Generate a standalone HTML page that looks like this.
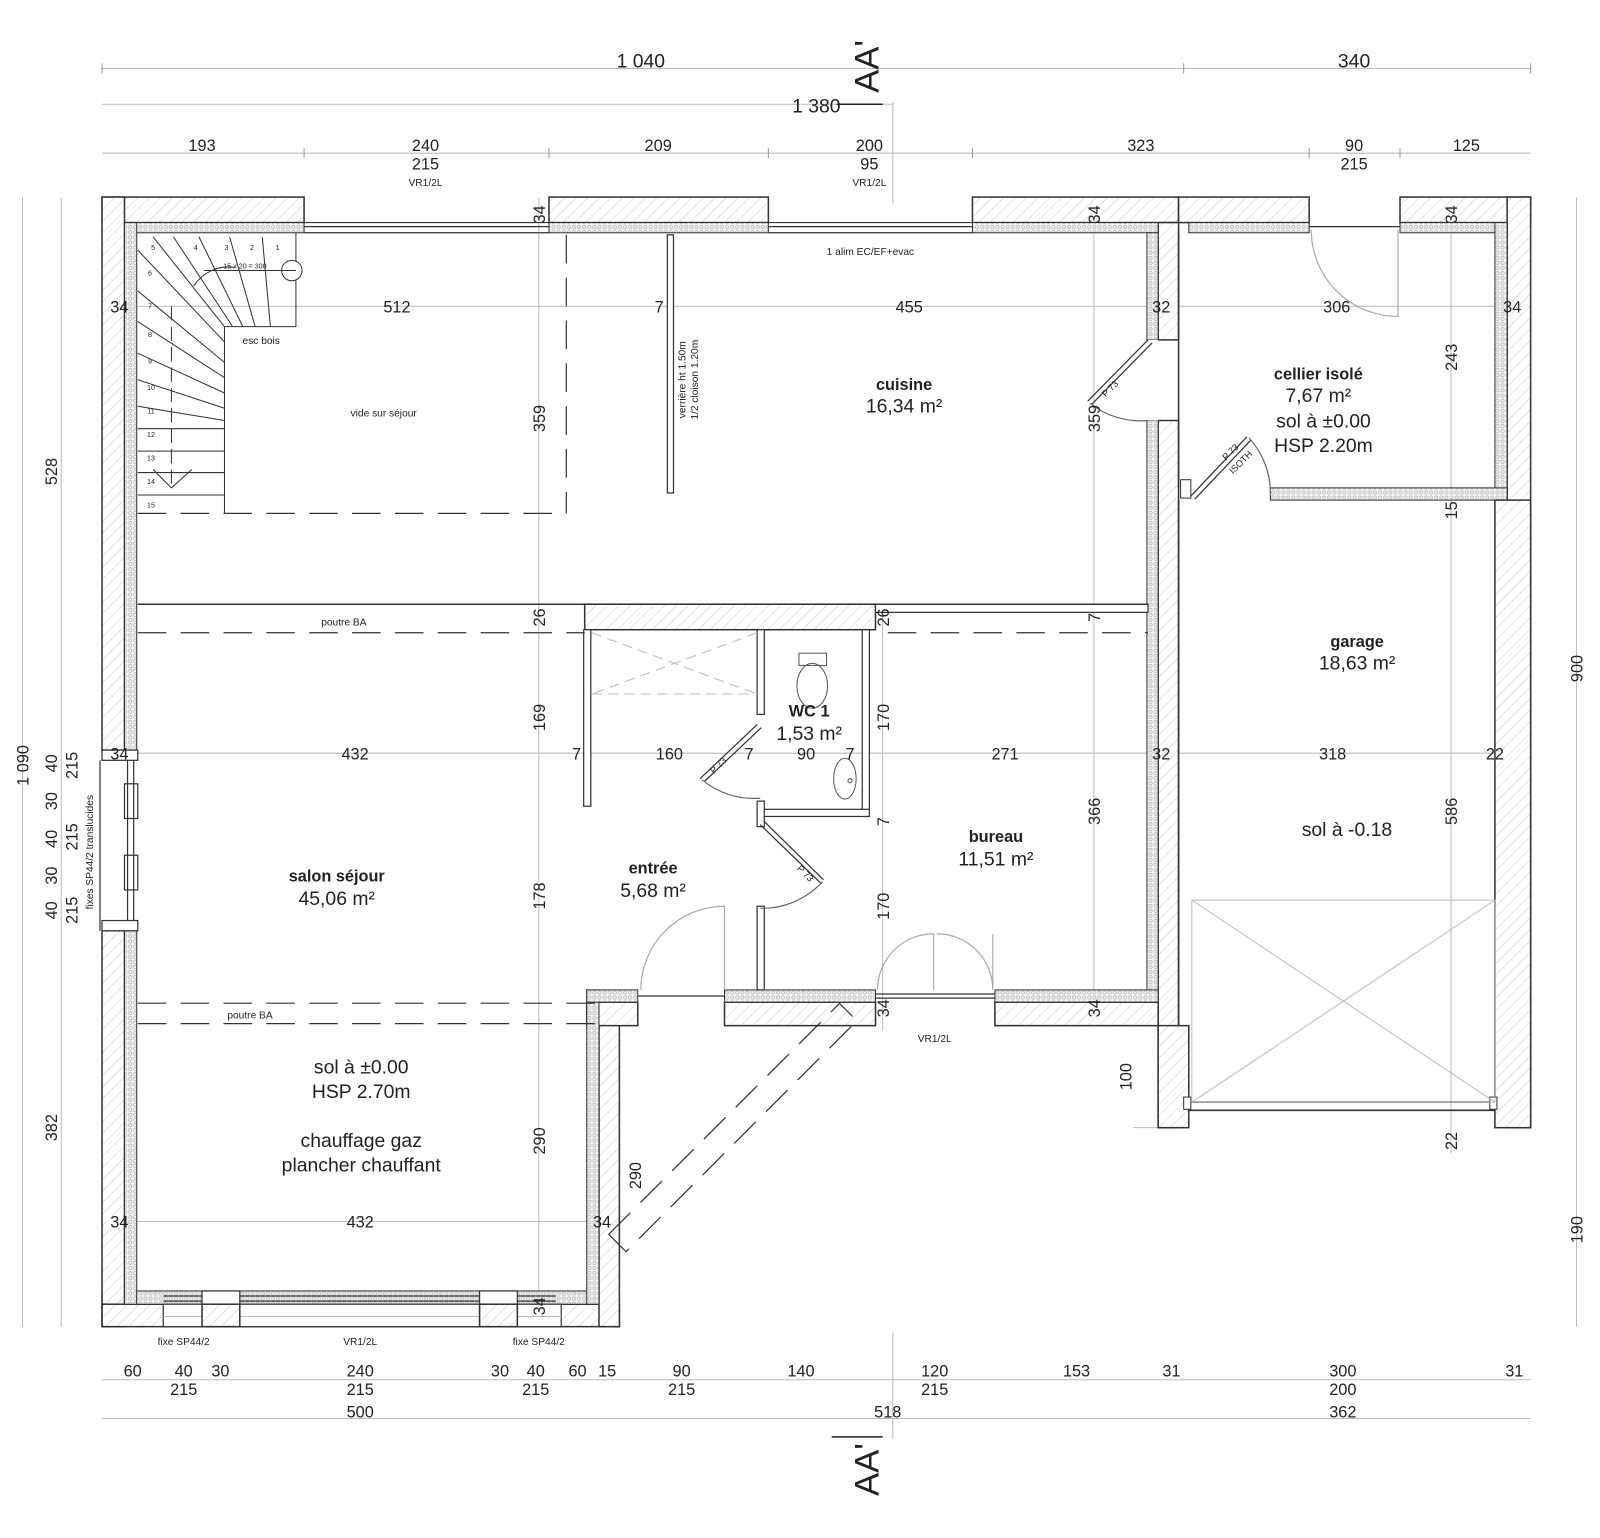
<!DOCTYPE html>
<html><head><meta charset="utf-8"><style>
html,body{margin:0;padding:0;background:#fff}
svg{display:block}
text{font-family:"Liberation Sans",sans-serif;fill:#222}
.d{font-size:16px;text-anchor:middle}
.s{font-size:10px;text-anchor:middle}
.b{font-size:16px;font-weight:bold;text-anchor:middle}
.a{font-size:19px;text-anchor:middle}
.g{stroke:#bbb;stroke-width:1;fill:none}
.k{stroke:#333;stroke-width:1.5;fill:none}
.w{fill:url(#h);stroke:#333;stroke-width:1.5}
.i{fill:url(#ins);stroke:#333;stroke-width:1}
.dash{stroke:#333;stroke-width:1.2;stroke-dasharray:28 14;fill:none}
</style></head><body>
<svg width="1600" height="1538" viewBox="0 0 1568 1507" xmlns="http://www.w3.org/2000/svg">
<defs>
<pattern id="h" width="8" height="8" patternUnits="userSpaceOnUse" patternTransform="rotate(45)">
<rect width="8" height="8" fill="#fff"/><line x1="0" y1="0" x2="0" y2="8" stroke="#c8c8c8" stroke-width="1"/></pattern>
<pattern id="ins" width="5" height="5" patternUnits="userSpaceOnUse">
<rect width="5" height="5" fill="#f2f2f2"/><circle cx="2.5" cy="2.5" r="1.6" fill="none" stroke="#aaa" stroke-width="0.6"/></pattern>
</defs>

<!-- dimension lines -->
<g class="g">
<line x1="100" y1="67" x2="1500" y2="67"/><line x1="100" y1="102" x2="875" y2="102"/>
<line x1="100" y1="150" x2="1500" y2="150"/>
<line x1="22" y1="193" x2="22" y2="1300"/><line x1="60" y1="193" x2="60" y2="1300"/>
<line x1="1545" y1="193" x2="1545" y2="1300"/>
<line x1="100" y1="1352" x2="1500" y2="1352"/><line x1="100" y1="1390" x2="1500" y2="1390"/>
<line x1="875" y1="100" x2="875" y2="200"/><line x1="875" y1="1305" x2="875" y2="1410"/>
<line x1="100" y1="300" x2="1500" y2="300"/><line x1="100" y1="738" x2="1500" y2="738"/>
<line x1="100" y1="1197" x2="607" y2="1197"/>
<line x1="528" y1="193" x2="528" y2="1300"/><line x1="865" y1="592" x2="865" y2="1010"/>
<line x1="1072" y1="193" x2="1072" y2="1005"/><line x1="1422" y1="193" x2="1422" y2="1130"/>
<line x1="1110" y1="1105" x2="1165" y2="1105"/>
</g>
<g stroke="#999" stroke-width="1">
<line x1="100" y1="62" x2="100" y2="72"/><line x1="1160" y1="62" x2="1160" y2="72"/><line x1="1500" y1="62" x2="1500" y2="72"/>
<line x1="298" y1="145" x2="298" y2="155"/><line x1="538" y1="145" x2="538" y2="155"/><line x1="753" y1="145" x2="753" y2="155"/><line x1="953" y1="145" x2="953" y2="155"/><line x1="1283" y1="145" x2="1283" y2="155"/><line x1="1372" y1="145" x2="1372" y2="155"/>
</g>
<line x1="820" y1="102" x2="865" y2="102" stroke="#222" stroke-width="1.5"/>
<line x1="815" y1="1408" x2="865" y2="1408" stroke="#222" stroke-width="1.5"/>

<!-- outer walls -->
<rect class="w" x="100" y="193" width="198" height="25"/>
<rect class="w" x="538" y="193" width="215" height="25"/>
<rect class="w" x="953" y="193" width="202" height="25"/>
<rect class="w" x="1155" y="193" width="128" height="25"/>
<rect class="w" x="1372" y="193" width="128" height="25"/>
<rect class="w" x="100" y="193" width="22" height="542"/>
<rect class="w" x="100" y="912" width="22" height="388"/>
<rect class="w" x="1477" y="193" width="23" height="912"/>
<rect class="w" x="1135" y="218" width="20" height="887"/>
<rect class="w" x="100" y="1278" width="507" height="22"/>
<rect class="w" x="587" y="982" width="20" height="318"/>
<rect class="w" x="575" y="982" width="50" height="23"/>
<rect class="w" x="710" y="982" width="148" height="23"/>
<rect class="w" x="975" y="982" width="160" height="23"/>
<rect class="w" x="573" y="592" width="285" height="25"/>
<!-- insulation -->
<rect class="i" x="122" y="218" width="176" height="10"/>
<rect class="i" x="538" y="218" width="215" height="10"/>
<rect class="i" x="953" y="218" width="182" height="10"/>
<rect class="i" x="1165" y="218" width="118" height="10"/>
<rect class="i" x="1372" y="218" width="105" height="10"/>
<rect class="i" x="122" y="218" width="12" height="517"/>
<rect class="i" x="122" y="912" width="12" height="366"/>
<rect class="i" x="1465" y="218" width="12" height="272"/>
<rect class="i" x="1124" y="228" width="11" height="105"/>
<rect class="i" x="1124" y="412" width="11" height="570"/>
<rect class="i" x="1245" y="478" width="232" height="12"/>
<rect class="i" x="134" y="1265" width="453" height="13"/>
<rect class="i" x="575" y="970" width="12" height="308"/>
<rect class="i" x="575" y="970" width="50" height="12"/>
<rect class="i" x="710" y="970" width="148" height="12"/>
<rect class="i" x="975" y="970" width="160" height="12"/>
<!-- door gaps (white) -->
<rect x="1125" y="333" width="40" height="79" fill="#fff"/>
<line class="k" x1="1135" y1="333" x2="1155" y2="333"/><line class="k" x1="1135" y1="412" x2="1155" y2="412"/>
<line class="k" x1="1155" y1="228" x2="1155" y2="478"/>
<rect x="1157" y="470" width="10" height="18" fill="#fff" stroke="#333"/>
<line class="k" x1="1155" y1="490" x2="1155" y2="1085"/>
<!-- left window piers -->
<g fill="#fff" stroke="#333" stroke-width="1.2">
<rect x="100" y="735" width="35" height="10"/><rect x="122" y="768" width="13" height="34"/><rect x="122" y="838" width="13" height="34"/><rect x="100" y="902" width="35" height="10"/>
<line x1="98" y1="745" x2="98" y2="912"/><line x1="125" y1="745" x2="125" y2="902"/><line x1="131" y1="745" x2="131" y2="902"/>
</g>
<!-- top windows -->
<g stroke="#333" stroke-width="1.2" fill="none">
<line x1="298" y1="218" x2="538" y2="218"/><line x1="298" y1="228" x2="538" y2="228"/><line x1="298" y1="222" x2="538" y2="222"/>
<line x1="753" y1="218" x2="953" y2="218"/><line x1="753" y1="228" x2="953" y2="228"/><line x1="753" y1="222" x2="953" y2="222"/>
<line x1="1283" y1="222" x2="1372" y2="222"/>
<line x1="100" y1="1265" x2="100" y2="1300"/>
<line x1="160" y1="1270" x2="545" y2="1270"/><line x1="160" y1="1275" x2="545" y2="1275"/>
<rect x="198" y="1265" width="37" height="13" fill="#fff"/><rect x="470" y="1265" width="37" height="13" fill="#fff"/>
<line x1="858" y1="974" x2="975" y2="974"/><line x1="858" y1="978" x2="975" y2="978"/>
<line x1="625" y1="976" x2="710" y2="976"/>
</g>
<rect x="160" y="1278" width="390" height="22" fill="#fff" stroke="#333" stroke-width="1.2"/>
<g class="g"><line x1="235" y1="1278" x2="235" y2="1300"/><line x1="470" y1="1278" x2="470" y2="1300"/><line x1="160" y1="1290" x2="550" y2="1290"/></g>
<rect class="w" x="198" y="1278" width="37" height="22"/><rect class="w" x="470" y="1278" width="37" height="22"/>

<!-- garage walls bottom -->
<rect class="w" x="1135" y="1005" width="30" height="100"/>
<rect class="w" x="1465" y="490" width="35" height="615"/>
<g class="k"><line x1="1165" y1="1080" x2="1465" y2="1080"/><line x1="1165" y1="1088" x2="1465" y2="1088"/></g>
<rect x="1160" y="1075" width="7" height="12" fill="#fff" stroke="#333"/><rect x="1460" y="1075" width="7" height="12" fill="#fff" stroke="#333"/>
<g class="g"><rect x="1168" y="882" width="297" height="198"/><line x1="1168" y1="882" x2="1465" y2="1080"/><line x1="1465" y1="882" x2="1168" y2="1080"/></g>

<!-- interior partitions -->
<g fill="#fff" stroke="#333" stroke-width="1.2">
<rect x="654" y="230" width="6" height="253"/>
<rect x="858" y="592" width="267" height="8"/>
<rect x="572" y="617" width="7" height="173"/>
<rect x="742" y="617" width="7" height="83"/>
<rect x="845" y="617" width="7" height="183"/>
<rect x="742" y="793" width="110" height="7"/>
<rect x="742" y="785" width="7" height="25"/>
<rect x="742" y="888" width="7" height="82"/>
</g>
<g class="g" stroke-dasharray="10 6"><line x1="580" y1="620" x2="742" y2="680"/><line x1="742" y1="620" x2="580" y2="680"/><line x1="580" y1="680" x2="742" y2="680"/></g>
<!-- poutres -->
<g class="dash">
<line x1="135" y1="592" x2="573" y2="592"/><line x1="135" y1="620" x2="573" y2="620"/>
<line x1="870" y1="620" x2="1125" y2="620"/>
<line x1="135" y1="983" x2="585" y2="983"/><line x1="135" y1="1003" x2="585" y2="1003"/>
<line x1="555" y1="230" x2="555" y2="503"/><line x1="135" y1="503" x2="555" y2="503"/>
</g>
<line class="k" x1="135" y1="592" x2="1125" y2="592"/>
<!-- diagonal dashed -->
<g transform="translate(605,1218) rotate(-45)"><rect x="0" y="-12" width="320" height="24" fill="none" stroke="#333" stroke-width="1.2" stroke-dasharray="30 14"/></g>

<!-- doors -->
<g stroke="#333" stroke-width="1.2" fill="none">
<line x1="1125" y1="333" x2="1066" y2="393"/><line x1="1129" y1="336" x2="1070" y2="396"/>
<path d="M1068 395 A80 80 0 0 0 1125 412" stroke="#666"/>
<line x1="1167" y1="486" x2="1222" y2="428"/><line x1="1171" y1="489" x2="1226" y2="431"/>
<path d="M1224 429 A80 80 0 0 1 1245 485" stroke="#666"/>
<path d="M1285 225 A85 85 0 0 0 1370 310 L1370 225" stroke="#aaa"/>
<line x1="742" y1="710" x2="686" y2="763"/><line x1="746" y1="713" x2="690" y2="766"/>
<path d="M688 764 A78 78 0 0 0 745 782" stroke="#666"/>
<line x1="745" y1="808" x2="805" y2="866"/><line x1="749" y1="805" x2="807" y2="862"/>
<path d="M806 864 A80 80 0 0 1 745 890" stroke="#666"/>
<path d="M628 970 A82 82 0 0 1 710 888 L710 970" stroke="#aaa"/>
<path d="M860 970 A55 55 0 0 1 915 915 L915 970" stroke="#aaa"/>
<path d="M973 970 A55 55 0 0 0 918 915" stroke="#aaa"/><line x1="973" y1="915" x2="973" y2="970" stroke="#aaa"/>
</g>
<!-- WC fixtures -->
<g stroke="#555" stroke-width="1" fill="none">
<rect x="783" y="640" width="27" height="12"/><ellipse cx="796" cy="672" rx="15" ry="22"/>
<ellipse cx="828" cy="763" rx="11" ry="20"/><circle cx="833" cy="765" r="2"/>
</g>
<!-- stairs -->
<g stroke="#333" stroke-width="1" fill="none">
<polyline points="290,228 290,320 220,320 220,503"/>
<circle cx="286" cy="265" r="10" fill="#fff"/>
<line x1="220" y1="320" x2="150" y2="232"/><line x1="228" y1="320" x2="170" y2="232"/><line x1="238" y1="320" x2="195" y2="232"/><line x1="250" y1="320" x2="225" y2="232"/><line x1="265" y1="320" x2="257" y2="232"/>
<line x1="135" y1="245" x2="220" y2="335"/><line x1="135" y1="285" x2="220" y2="355"/><line x1="135" y1="315" x2="220" y2="370"/>
<line x1="135" y1="346" x2="220" y2="385"/><line x1="135" y1="372" x2="220" y2="400"/><line x1="135" y1="398" x2="220" y2="412"/>
<line x1="135" y1="420" x2="220" y2="420"/><line x1="135" y1="442" x2="220" y2="442"/><line x1="135" y1="463" x2="220" y2="463"/><line x1="135" y1="485" x2="220" y2="485"/>
<line x1="168" y1="300" x2="168" y2="480" stroke-dasharray="14 6"/>
<polyline points="150,460 168,478 188,460"/>
<path d="M190 280 A40 40 0 0 1 230 262"/><line x1="200" y1="265" x2="290" y2="265"/>
</g>
<g font-size="7" text-anchor="middle"><text x="150" y="245">5</text><text x="192" y="245">4</text><text x="222" y="245">3</text><text x="247" y="245">2</text><text x="272" y="245">1</text><text x="147" y="270">6</text><text x="147" y="302">7</text><text x="147" y="330">8</text><text x="147" y="356">9</text><text x="148" y="382">10</text><text x="148" y="405">11</text><text x="148" y="428">12</text><text x="148" y="451">13</text><text x="148" y="474">14</text><text x="148" y="497">15</text><text x="240" y="263">15 x 20 = 300</text></g>

<!-- texts top -->
<text class="a" x="628" y="66">1 040</text><text class="a" x="1327" y="66">340</text>
<text class="a" x="800" y="110">1 380</text>
<text x="852" y="65" font-size="34" text-anchor="middle" transform="rotate(-90 852 65)" dominant-baseline="middle">AA'</text>
<text x="852" y="1440" font-size="34" text-anchor="middle" transform="rotate(-90 852 1440)" dominant-baseline="middle">AA'</text>
<g class="d" font-size="17">
<text x="198" y="148">193</text><text x="417" y="148">240</text><text x="645" y="148">209</text><text x="852" y="148">200</text><text x="1118" y="148">323</text><text x="1327" y="148">90</text><text x="1437" y="148">125</text>
<text x="417" y="166">215</text><text x="852" y="166">95</text><text x="1327" y="166">215</text>
</g>
<text class="s" x="417" y="182">VR1/2L</text><text class="s" x="852" y="182">VR1/2L</text>
<!-- bottom -->
<g class="d" font-size="17">
<text x="130" y="1349">60</text><text x="180" y="1349">40</text><text x="216" y="1349">30</text><text x="353" y="1349">240</text><text x="490" y="1349">30</text><text x="525" y="1349">40</text><text x="566" y="1349">60</text><text x="595" y="1349">15</text><text x="668" y="1349">90</text><text x="785" y="1349">140</text><text x="916" y="1349">120</text><text x="1055" y="1349">153</text><text x="1148" y="1349">31</text><text x="1316" y="1349">300</text><text x="1484" y="1349">31</text>
<text x="180" y="1367">215</text><text x="353" y="1367">215</text><text x="525" y="1367">215</text><text x="668" y="1367">215</text><text x="916" y="1367">215</text><text x="1316" y="1367">200</text>
<text x="353" y="1389">500</text><text x="870" y="1389">518</text><text x="1316" y="1389">362</text>
</g>
<text class="s" x="180" y="1318">fixe SP44/2</text><text class="s" x="353" y="1318">VR1/2L</text><text class="s" x="528" y="1318">fixe SP44/2</text><text class="s" x="916" y="1021">VR1/2L</text>
<!-- interior horizontal dims -->
<g class="d" font-size="17">
<text x="117" y="306">34</text><text x="389" y="306">512</text><text x="646" y="306">7</text><text x="891" y="306">455</text><text x="1138" y="306">32</text><text x="1310" y="306">306</text><text x="1482" y="306">34</text>
<text x="117" y="744">34</text><text x="348" y="744">432</text><text x="565" y="744">7</text><text x="656" y="744">160</text><text x="734" y="744">7</text><text x="790" y="744">90</text><text x="833" y="744">7</text><text x="985" y="744">271</text><text x="1138" y="744">32</text><text x="1306" y="744">318</text><text x="1465" y="744">22</text>
<text x="117" y="1203">34</text><text x="353" y="1203">432</text><text x="590" y="1203">34</text>
</g>
<!-- rotated dims -->
<g class="d" font-size="17">
<text transform="translate(534,210) rotate(-90)">34</text><text transform="translate(1078,210) rotate(-90)">34</text><text transform="translate(1428,210) rotate(-90)">34</text>
<text transform="translate(534,410) rotate(-90)">359</text><text transform="translate(1078,410) rotate(-90)">359</text><text transform="translate(1428,350) rotate(-90)">243</text><text transform="translate(1428,500) rotate(-90)">15</text>
<text transform="translate(534,605) rotate(-90)">26</text><text transform="translate(871,605) rotate(-90)">26</text><text transform="translate(1078,605) rotate(-90)">7</text>
<text transform="translate(534,703) rotate(-90)">169</text><text transform="translate(871,703) rotate(-90)">170</text><text transform="translate(871,805) rotate(-90)">7</text>
<text transform="translate(1078,795) rotate(-90)">366</text><text transform="translate(1428,795) rotate(-90)">586</text>
<text transform="translate(534,878) rotate(-90)">178</text><text transform="translate(871,888) rotate(-90)">170</text>
<text transform="translate(871,988) rotate(-90)">34</text><text transform="translate(1078,988) rotate(-90)">34</text>
<text transform="translate(1109,1055) rotate(-90)">100</text><text transform="translate(534,1118) rotate(-90)">290</text><text transform="translate(628,1152) rotate(-90)">290</text>
<text transform="translate(1428,1118) rotate(-90)">22</text><text transform="translate(534,1280) rotate(-90)">34</text>
<text transform="translate(56,462) rotate(-90)">528</text><text transform="translate(56,1105) rotate(-90)">382</text><text transform="translate(28,750) rotate(-90)">1 090</text>
<text transform="translate(1551,655) rotate(-90)">900</text><text transform="translate(1551,1205) rotate(-90)">190</text>
<text transform="translate(56,748) rotate(-90)">40</text><text transform="translate(56,785) rotate(-90)">30</text><text transform="translate(56,822) rotate(-90)">40</text><text transform="translate(56,858) rotate(-90)">30</text><text transform="translate(56,892) rotate(-90)">40</text>
<text transform="translate(76,750) rotate(-90)">215</text><text transform="translate(76,820) rotate(-90)">215</text><text transform="translate(76,892) rotate(-90)">215</text>
</g>
<text class="s" transform="translate(91,835) rotate(-90)">fixes SP44/2 translucides</text>
<text class="s" transform="translate(672,372) rotate(-90)">verrière ht 1.50m</text>
<text class="s" transform="translate(684,372) rotate(-90)">1/2 cloison 1.20m</text>
<!-- door labels -->
<g font-size="9" text-anchor="middle">
<text transform="translate(1090,383) rotate(-45)">P 73</text>
<text transform="translate(1208,445) rotate(-45)">P 73</text><text transform="translate(1218,455) rotate(-45)">ISOTH</text>
<text transform="translate(706,752) rotate(-45)">P 73</text>
<text transform="translate(787,858) rotate(45)">P 73</text>
</g>
<!-- room labels -->
<text class="b" x="886" y="382">cuisine</text><text class="a" x="886" y="404">16,34 m²</text>
<text class="b" x="1292" y="372">cellier isolé</text><text class="a" x="1292" y="394">7,67 m²</text><text class="a" x="1297" y="419">sol à ±0.00</text><text class="a" x="1297" y="443">HSP 2.20m</text>
<text class="b" x="1330" y="634">garage</text><text class="a" x="1330" y="656">18,63 m²</text>
<text class="b" x="793" y="702">WC 1</text><text class="a" x="793" y="725">1,53 m²</text>
<text class="b" x="976" y="825">bureau</text><text class="a" x="976" y="848">11,51 m²</text>
<text class="b" x="640" y="856">entrée</text><text class="a" x="640" y="879">5,68 m²</text>
<text class="b" x="330" y="864">salon séjour</text><text class="a" x="330" y="887">45,06 m²</text>
<text class="a" x="354" y="1052">sol à ±0.00</text><text class="a" x="354" y="1076">HSP 2.70m</text>
<text class="a" x="354" y="1124">chauffage gaz</text><text class="a" x="354" y="1148">plancher chauffant</text>
<text class="a" x="1320" y="819">sol à -0.18</text>
<text class="s" x="256" y="337">esc bois</text><text class="s" x="376" y="408">vide sur séjour</text>
<text class="s" x="853" y="250">1 alim EC/EF+evac</text>
<text class="s" x="337" y="613">poutre BA</text><text class="s" x="245" y="998">poutre BA</text>
</svg>
</body></html>
